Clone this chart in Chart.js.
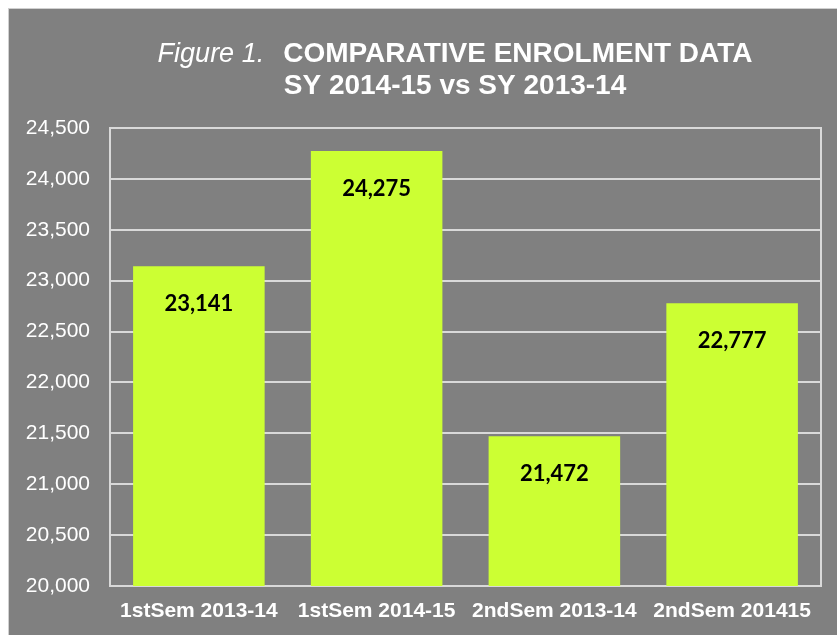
<!DOCTYPE html>
<html>
<head>
<meta charset="utf-8">
<script src="https://cdn.jsdelivr.net/npm/chart.js@4/dist/chart.umd.min.js"></script>
<style>
    html, body { margin: 0; padding: 0; background: #fff; }
    #frame {
        position: absolute;
        left: 8px;
        top: 8px;
        width: 828px;
        height: 626px;
        background: #808080;
        border-left: 1px solid #d0d0d0;
        border-top: 1px solid #d0d0d0;
    }
    #chart { display: block; }
</style>
</head>
<body>
<div id="frame"><canvas id="chart" width="828" height="626"></canvas></div>
<script>
// Chart data
const categories = ['1stSem 2013-14', '1stSem 2014-15', '2ndSem 2013-14', '2ndSem 201415'];
const enrolment = [23141, 24275, 21472, 22777];
const yMin = 20000;
const yMax = 24500;
const yStep = 500;

const titleItalic = 'Figure 1.';
const titleBold = 'COMPARATIVE ENROLMENT DATA';
const titleLine2 = 'SY 2014-15 vs SY 2013-14';

const lineColor = '#d9d9d9';

// Title drawn by hand: first line mixes italic and bold
const titlePlugin = {
    id: 'mixedTitle',
    afterDraw(chart) {
        const ctx = chart.ctx;
        const cx = 446;
        ctx.save();
        ctx.fillStyle = '#fff';
        ctx.textBaseline = 'alphabetic';
        ctx.textAlign = 'left';
        const fItalic = 'italic 27px "Liberation Sans", Arial, sans-serif';
        const fBold = 'bold 28px "Liberation Sans", Arial, sans-serif';
        ctx.font = fItalic;
        const w1 = ctx.measureText(titleItalic).width;
        ctx.font = fBold;
        const w2 = ctx.measureText(titleBold).width;
        const gap = 19;
        const x0 = cx - (w1 + gap + w2) / 2;
        ctx.font = fItalic;
        ctx.fillText(titleItalic, x0, 53);
        ctx.font = fBold;
        ctx.fillText(titleBold, x0 + w1 + gap, 53);
        ctx.textAlign = 'center';
        ctx.fillText(titleLine2, cx, 85);
        ctx.restore();
    }
};

// Plot frame (top / right edges) behind the bars
const framePlugin = {
    id: 'plotFrame',
    beforeDatasetsDraw(chart) {
        const { ctx, chartArea: a } = chart;
        ctx.save();
        ctx.strokeStyle = lineColor;
        ctx.lineWidth = 2;
        ctx.strokeRect(a.left, a.top, a.right - a.left, a.bottom - a.top);
        ctx.restore();
    }
};

// Value labels inside bars
const valueLabels = {
    id: 'valueLabels',
    afterDatasetsDraw(chart) {
        const ctx = chart.ctx;
        const meta = chart.getDatasetMeta(0);
        ctx.save();
        ctx.fillStyle = '#000';
        ctx.font = 'bold 22px Lato, "Liberation Sans", sans-serif';
        ctx.textAlign = 'center';
        ctx.textBaseline = 'middle';
        meta.data.forEach((bar, i) => {
            ctx.fillText(enrolment[i].toLocaleString('en-US'), bar.x, bar.y + 38);
        });
        ctx.restore();
    }
};

new Chart(document.getElementById('chart'), {
    type: 'bar',
    data: {
        labels: categories,
        datasets: [{
            data: enrolment,
            backgroundColor: '#ccff33',
            borderWidth: 0,
            barPercentage: 0.74,
            categoryPercentage: 1.0
        }]
    },
    options: {
        responsive: false,
        animation: false,
        layout: { padding: { top: 119, right: 16, left: 0, bottom: 0 } },
        plugins: {
            legend: { display: false },
            title: { display: false },
            tooltip: { enabled: false }
        },
        scales: {
            x: {
                grid: { display: false, drawTicks: false },
                border: { display: true, color: lineColor, width: 2 },
                ticks: {
                    color: '#fff',
                    padding: 13,
                    maxRotation: 0,
                    font: { family: '"Liberation Sans", Arial, sans-serif', size: 21, weight: 'bold' }
                },
                afterFit(scale) { scale.height = 49; }
            },
            y: {
                min: yMin,
                max: yMax,
                grid: { color: lineColor, lineWidth: 2, drawTicks: false },
                border: { display: true, color: lineColor, width: 2 },
                ticks: {
                    stepSize: yStep,
                    color: '#fff',
                    padding: 20,
                    font: { family: '"Liberation Sans", Arial, sans-serif', size: 21 }
                },
                afterFit(scale) { scale.width = 101; }
            }
        }
    },
    plugins: [framePlugin, valueLabels, titlePlugin]
});
</script>
</body>
</html>
